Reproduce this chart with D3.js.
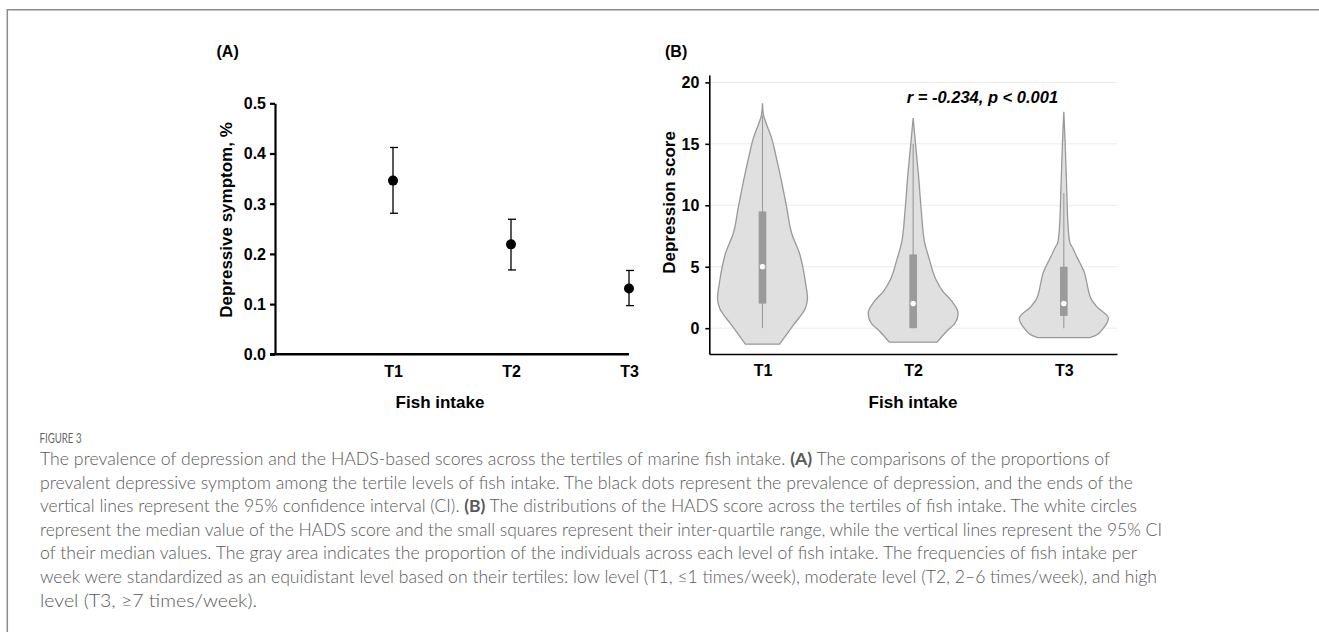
<!DOCTYPE html>
<html>
<head>
<meta charset="utf-8">
<script src="https://cdnjs.cloudflare.com/ajax/libs/d3/7.8.5/d3.min.js"></script>
<style>
  body { margin: 0; background: #fff; }
  svg { display: block; }
</style>
</head>
<body>
<svg id="fig" width="1319" height="632"></svg>
<script>
// ---- data ----
const tertiles = ['T1', 'T2', 'T3'];

// panel A: prevalence of depressive symptom with 95% CI
const prevalence = [0.346, 0.219, 0.131];
const ciLow = [0.281, 0.168, 0.097];
const ciHigh = [0.412, 0.269, 0.167];
const prevTicks = [0, 0.1, 0.2, 0.3, 0.4, 0.5];

// panel B: violin outlines as [score, relative half width]
const violinT1 = [[-1.3, 0.38], [0.27, 0.69], [1.6, 0.95], [2.45, 1.0], [3.6, 0.96], [4.9, 0.9], [6.0, 0.83],
  [7.7, 0.65], [10, 0.53], [12, 0.42], [14, 0.3], [15.5, 0.2], [17.0, 0.05], [17.4, 0.02], [18.3, 0]];
const violinT2 = [[-1.14, 0.53], [-0.27, 0.74], [0.4, 0.93], [1.2, 1.0], [2.2, 0.86], [3.0, 0.66], [4.0, 0.5],
  [5.6, 0.36], [6.9, 0.26], [9.6, 0.18], [12.4, 0.12], [15.1, 0.05], [17.1, 0]];
const violinT3 = [[-0.76, 0.58], [-0.6, 0.7], [0, 0.88], [0.8, 0.99], [1.76, 0.73], [2.3, 0.62], [3.7, 0.51],
  [4.5, 0.46], [5.0, 0.4], [5.8, 0.29], [6.65, 0.18], [6.9, 0.14], [8, 0.1], [11, 0.067], [15.1, 0.03], [17.6, 0]];
const violins = [violinT1, violinT2, violinT3];

// box summaries: q1, median, q3, whisker low, whisker high
const q1 = [2, 0, 1];
const medians = [5, 2, 2];
const q3 = [9.5, 6, 5];
const whiskLow = [0, 0, 0];
const whiskHigh = [17.3, 15, 11];
const scoreTicks = [0, 5, 10, 15, 20];

const captionLines = [
  [['The prevalence of depression and the HADS-based scores across the tertiles of marine fish intake. ', 0], ['(A)', 1], [' The comparisons of the proportions of', 0]],
  [['prevalent depressive symptom among the tertile levels of fish intake. The black dots represent the prevalence of depression, and the ends of the', 0]],
  [['vertical lines represent the 95% confidence interval (CI). ', 0], ['(B)', 1], [' The distributions of the HADS score across the tertiles of fish intake. The white circles', 0]],
  [['represent the median value of the HADS score and the small squares represent their inter-quartile range, while the vertical lines represent the 95% CI', 0]],
  [['of their median values. The gray area indicates the proportion of the individuals across each level of fish intake. The frequencies of fish intake per', 0]],
  [['week were standardized as an equidistant level based on their tertiles: low level (T1, \u22641 times/week), moderate level (T2, 2\u20136 times/week), and high', 0]],
  [['level (T3, \u22657 times/week).', 0]]
];
const captionWidths = [1070, 1093, 1097, 1122, 1097, 1117, 217];

const svg = d3.select('#fig');
const FONT = 'Liberation Sans, Arial, Helvetica, sans-serif';

// frame around the figure
svg.append('line').attr('x1', 7).attr('x2', 1319).attr('y1', 9.7).attr('y2', 9.7)
  .attr('stroke', '#8c8c8c').attr('stroke-width', 1.5);
svg.append('line').attr('x1', 7.3).attr('x2', 7.3).attr('y1', 9).attr('y2', 632)
  .attr('stroke', '#8c8c8c').attr('stroke-width', 1.5);

function styleAxis(g, w) {
  g.select('.domain').attr('stroke', '#000').attr('stroke-width', w);
  g.selectAll('.tick line').attr('stroke', '#000').attr('stroke-width', w);
  g.selectAll('.tick text').attr('font-family', FONT).attr('font-weight', 'bold')
    .attr('font-size', 16).attr('fill', '#000');
}

// ---------------- panel A ----------------
const xA = d3.scaleLinear().domain([0, 3]).range([275, 629]);
const yA = d3.scaleLinear().domain([0, 0.5]).range([354.3, 103.3]);

svg.append('text').attr('x', 216.5).attr('y', 57.3).text('(A)')
  .attr('font-family', FONT).attr('font-weight', 'bold').attr('font-size', 16);

const axA = svg.append('g').attr('transform', 'translate(' + xA(0) + ',0)')
  .call(d3.axisLeft(yA).tickValues(prevTicks).tickFormat(d3.format('.1f')).tickSize(5).tickSizeOuter(0).tickPadding(4));
styleAxis(axA, 2.2);
axA.selectAll('.tick text').attr('dy', '0.34em');

const axAx = svg.append('g').attr('transform', 'translate(0,' + yA(0) + ')')
  .call(d3.axisBottom(xA).tickValues([1, 2, 3]).tickFormat(d => tertiles[d - 1]).tickSize(0).tickSizeOuter(0).tickPadding(11));
styleAxis(axAx, 2.4);
axAx.select('.domain').attr('d', 'M270,0H' + xA(3));

svg.append('text').attr('transform', 'translate(231.5,220) rotate(-90)')
  .attr('text-anchor', 'middle').text('Depressive symptom, %')
  .attr('font-family', FONT).attr('font-weight', 'bold').attr('font-size', 17);
svg.append('text').attr('x', 440).attr('y', 408.3).attr('text-anchor', 'middle').text('Fish intake')
  .attr('font-family', FONT).attr('font-weight', 'bold').attr('font-size', 17);

const pts = svg.append('g');
prevalence.forEach((p, i) => {
  const cx = xA(i + 1);
  pts.append('line').attr('x1', cx).attr('x2', cx).attr('y1', yA(ciLow[i])).attr('y2', yA(ciHigh[i]))
    .attr('stroke', '#000').attr('stroke-width', 1.3);
  [ciLow[i], ciHigh[i]].forEach(v => {
    pts.append('line').attr('x1', cx - 3).attr('x2', cx + 5).attr('y1', yA(v)).attr('y2', yA(v))
      .attr('stroke', '#000').attr('stroke-width', 1.3);
  });
  pts.append('circle').attr('cx', cx).attr('cy', yA(p)).attr('r', 5).attr('fill', '#000');
});

// ---------------- panel B ----------------
const xB = d3.scalePoint().domain(tertiles).range([709.3, 1117]).padding(0.353);
const yB = d3.scaleLinear().domain([-2.1, 20.6]).range([354, 75]);
const wB = d3.scaleLinear().domain([0, 1]).range([0, 45]);

svg.append('text').attr('x', 665).attr('y', 57.3).text('(B)')
  .attr('font-family', FONT).attr('font-weight', 'bold').attr('font-size', 16);

// grid lines
svg.append('g').selectAll('line').data(scoreTicks).enter().append('line')
  .attr('x1', 709.3).attr('x2', 1117).attr('y1', d => yB(d)).attr('y2', d => yB(d))
  .attr('stroke', '#ebebeb').attr('stroke-width', 1);

const violinArea = d3.area()
  .curve(d3.curveMonotoneY)
  .y(d => yB(d[0]));

const vg = svg.append('g');
tertiles.forEach((t, i) => {
  const cx = xB(t);
  vg.append('path').datum(violins[i])
    .attr('d', violinArea.x0(d => cx - wB(d[1])).x1(d => cx + wB(d[1])))
    .attr('fill', '#e0e0e0').attr('stroke', '#999').attr('stroke-width', 1.3);
  vg.append('line').attr('x1', cx).attr('x2', cx).attr('y1', yB(whiskLow[i])).attr('y2', yB(whiskHigh[i]))
    .attr('stroke', '#9a9a9a').attr('stroke-width', 1.1);
  vg.append('rect').attr('x', cx - 3.8).attr('width', 7.6)
    .attr('y', yB(q3[i])).attr('height', yB(q1[i]) - yB(q3[i])).attr('fill', '#9a9a9a');
  vg.append('circle').attr('cx', cx).attr('cy', yB(medians[i])).attr('r', 3.3)
    .attr('fill', '#fff').attr('stroke', '#888').attr('stroke-width', 0.8);
});

const axB = svg.append('g').attr('transform', 'translate(709.3,0)')
  .call(d3.axisLeft(yB).tickValues(scoreTicks).tickSize(4).tickSizeOuter(0).tickPadding(6));
styleAxis(axB, 1.6);
axB.selectAll('.tick text').attr('dy', '0.34em');

const axBx = svg.append('g').attr('transform', 'translate(0,354)')
  .call(d3.axisBottom(xB).tickSize(0).tickSizeOuter(0).tickPadding(11));
styleAxis(axBx, 1.6);

svg.append('text').attr('transform', 'translate(675,202.5) rotate(-90)')
  .attr('text-anchor', 'middle').text('Depression score')
  .attr('font-family', FONT).attr('font-weight', 'bold').attr('font-size', 17);
svg.append('text').attr('x', 913).attr('y', 408.3).attr('text-anchor', 'middle').text('Fish intake')
  .attr('font-family', FONT).attr('font-weight', 'bold').attr('font-size', 17);
svg.append('text').attr('x', 982.4).attr('y', 102.7).attr('text-anchor', 'middle')
  .text('r = -0.234, p < 0.001')
  .attr('font-family', FONT).attr('font-weight', 'bold').attr('font-style', 'italic').attr('font-size', 16.5);

// ---------------- caption ----------------
const CAP = 'Lato, "Open Sans", sans-serif';
svg.append('text').attr('x', 39.5).attr('y', 443.3).text('FIGURE 3')
  .attr('font-family', CAP).attr('font-size', 12.5).attr('fill', '#666')
  .attr('textLength', 42).attr('lengthAdjust', 'spacingAndGlyphs');

const cap = svg.append('g').attr('font-family', CAP).attr('font-size', 17).attr('font-weight', 300).attr('fill', '#595959');
captionLines.forEach((parts, i) => {
  const t = cap.append('text').attr('x', 40).attr('y', 465 + i * 23.6)
    .attr('textLength', captionWidths[i]).attr('lengthAdjust', 'spacingAndGlyphs');
  parts.forEach(p => {
    t.append('tspan').text(p[0]).attr('font-weight', p[1] ? 'bold' : null);
  });
});
</script>
</body>
</html>
